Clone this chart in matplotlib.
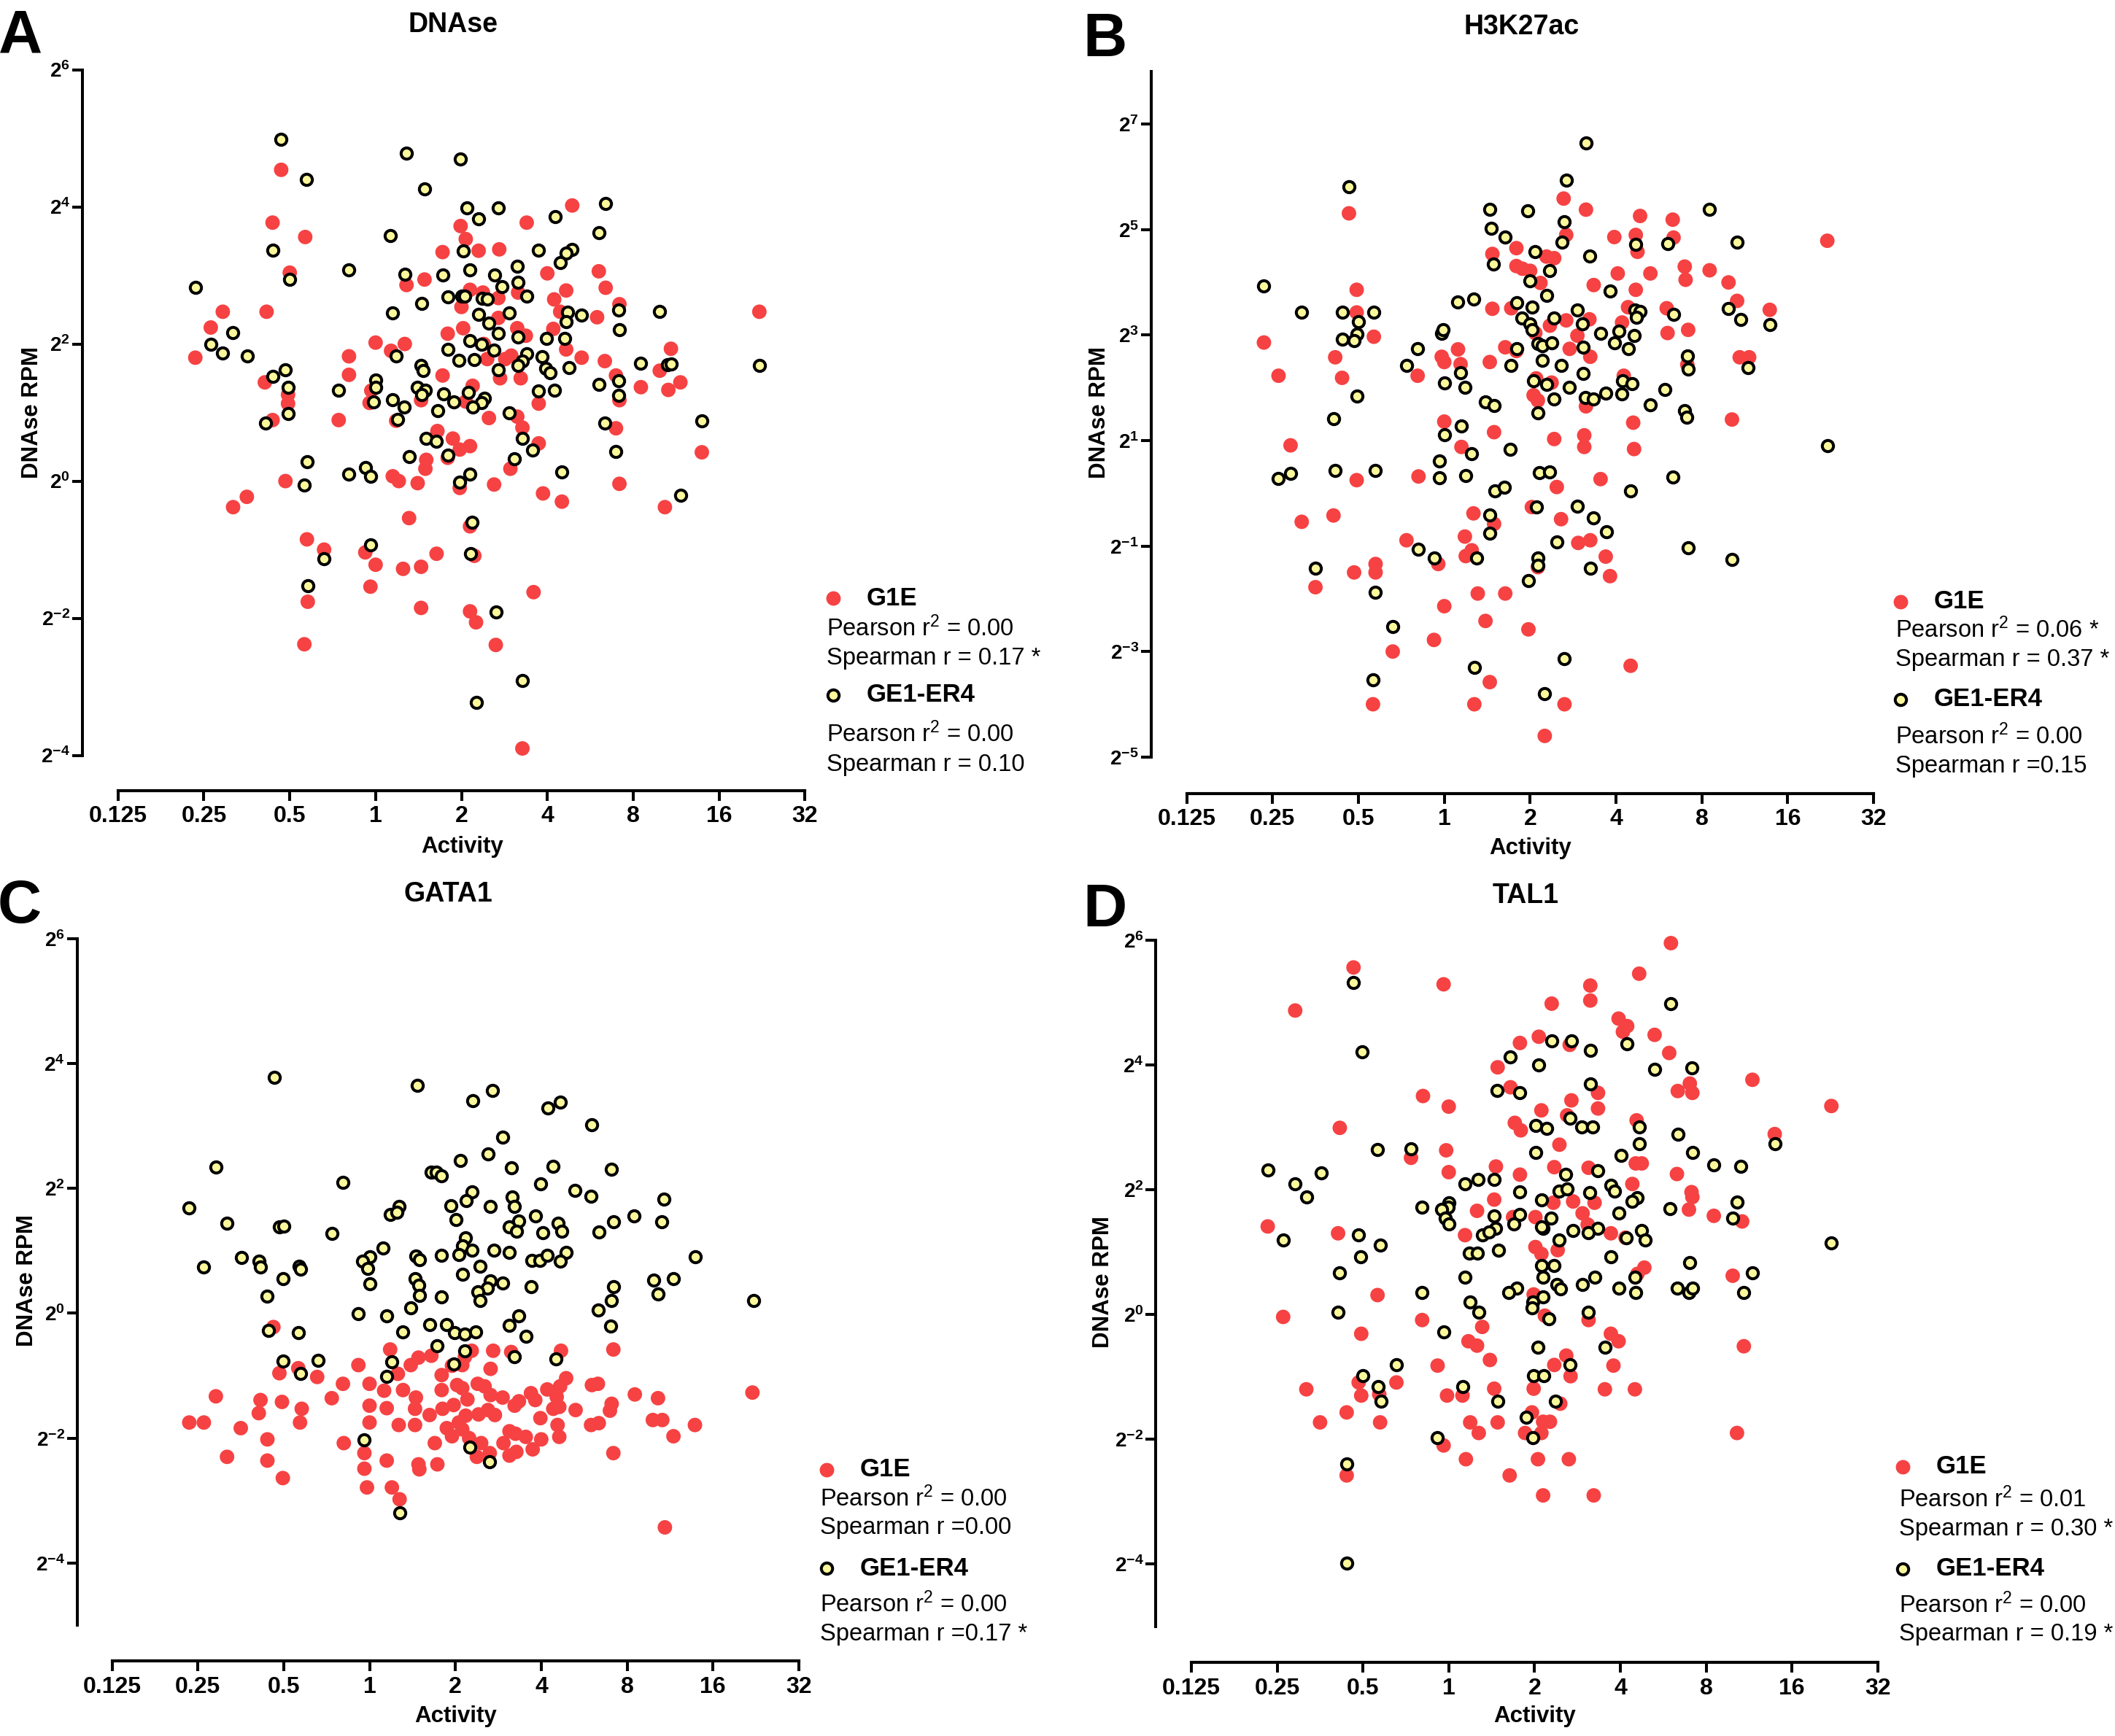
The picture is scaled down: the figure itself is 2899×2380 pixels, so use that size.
import matplotlib
matplotlib.use("Agg")
import matplotlib.pyplot as plt
from matplotlib.lines import Line2D
from matplotlib.ticker import NullLocator
import numpy as np

plt.rcParams['font.family'] = ['Liberation Sans', 'DejaVu Sans']
plt.rcParams['mathtext.fontset'] = 'custom'
plt.rcParams['mathtext.rm'] = 'Liberation Sans'
plt.rcParams['mathtext.bf'] = 'Liberation Sans:bold'
plt.rcParams['mathtext.it'] = 'Liberation Sans:italic'
plt.rcParams['mathtext.default'] = 'regular'

# ---------------- data: (log2 Activity, log2 DNAse RPM) ----------------
DNASE_G1E = [(-1.10,4.54),(-1.20,3.77),(-0.82,3.56),(-1.00,3.04),(-1.78,2.47),(-1.27,2.47),(-1.92,2.24),(-2.10,1.80),(-1.29,1.44),(-1.02,1.26),
(-1.02,1.13),(-1.20,0.89),(-1.05,0.00),(-1.50,-0.23),(-1.66,-0.38),(-0.80,-0.85),(-0.60,-1.00),(-0.79,-1.76),(-0.83,-2.38),(-0.43,0.89),
(-0.31,1.82),(-0.31,1.55),(0.00,2.02),(-0.05,1.32),(-0.07,1.14),(0.34,2.00),(0.18,1.90),(0.24,0.88),(0.20,0.07),(0.27,0.00),
(0.49,-0.03),(0.39,-0.54),(-0.12,-1.04),(0.00,-1.22),(-0.06,-1.54),(0.32,-1.28),(0.53,-1.25),(0.71,-1.06),(0.53,-1.85),(0.36,2.86),
(0.57,2.94),(0.53,1.18),(0.59,0.31),(0.58,0.18),(0.72,0.73),(0.78,1.54),(0.78,3.34),(0.84,2.15),(0.90,0.62),(0.84,0.34),
(0.99,3.72),(1.05,3.53),(1.20,3.36),(1.00,2.54),(1.10,2.79),(1.02,2.23),(1.13,1.39),(1.05,1.16),(1.10,0.51),(0.98,0.46),
(0.98,-0.10),(1.10,-0.66),(1.15,-1.09),(1.10,-1.90),(1.17,-2.06),(1.40,-2.39),(1.25,2.75),(1.26,2.00),(1.30,1.78),(1.32,0.92),
(1.38,-0.05),(1.43,2.67),(1.44,3.38),(1.43,2.38),(1.45,1.50),(1.51,1.78),(1.58,1.83),(1.57,0.18),(1.66,2.75),(1.69,1.50),
(1.65,0.94),(1.71,0.78),(1.65,2.23),(1.76,3.77),(1.75,2.12),(1.84,-1.62),(1.90,0.55),(1.90,1.13),(1.95,-0.18),(2.00,3.03),
(2.08,2.65),(2.07,2.22),(2.15,2.47),(2.22,2.78),(2.22,1.92),(2.17,-0.30),(2.29,4.02),(2.40,1.80),(2.58,2.39),(2.60,3.06),
(2.68,2.82),(2.67,1.75),(2.80,1.54),(2.84,1.18),(2.80,0.77),(2.84,-0.04),(2.84,2.58),(3.09,1.37),(3.31,1.61),(3.41,1.33),
(3.44,1.93),(3.55,1.44),(3.37,-0.38),(3.80,0.42),(4.47,2.47),(1.71,-3.90)]

DNASE_GE1ER4 = [(-1.10,4.98),(-0.81,4.40),(0.36,4.78),(0.99,4.70),(0.57,4.26),(1.06,3.99),(1.43,3.98),(1.20,3.82),(2.09,3.86),(2.68,4.05),
(0.17,3.58),(-1.20,3.37),(1.02,3.36),(1.90,3.37),(2.60,3.62),(2.29,3.38),(2.22,3.32),(2.15,3.19),(1.65,3.13),(-0.31,3.08),
(0.34,3.02),(0.78,3.01),(1.10,3.08),(1.39,3.01),(-1.00,2.94),(-2.10,2.82),(1.66,2.90),(1.47,2.84),(1.76,2.70),(0.84,2.69),
(1.00,2.70),(1.04,2.70),(1.24,2.67),(1.30,2.65),(0.54,2.59),(0.20,2.45),(1.20,2.43),(1.56,2.45),(2.40,2.42),(2.83,2.50),
(3.31,2.47),(2.24,2.46),(2.22,2.32),(1.32,2.30),(1.43,2.16),(1.99,2.08),(2.20,2.08),(1.66,2.10),(2.84,2.21),(-1.66,2.17),
(-1.92,1.99),(-1.78,1.87),(-1.49,1.83),(1.10,2.05),(1.23,1.99),(0.84,1.92),(1.38,1.91),(0.24,1.83),(0.97,1.76),(1.15,1.77),
(1.76,1.86),(1.94,1.81),(1.71,1.75),(1.66,1.69),(0.53,1.69),(0.55,1.61),(1.98,1.64),(2.03,1.58),(2.25,1.65),(1.43,1.62),
(-1.05,1.62),(-1.20,1.53),(3.09,1.72),(3.40,1.70),(3.44,1.71),(4.47,1.69),(0.00,1.47),(0.00,1.37),(-1.02,1.37),(-0.43,1.32),
(0.49,1.37),(0.58,1.32),(0.54,1.26),(0.79,1.27),(1.08,1.29),(1.27,1.21),(1.23,1.14),(0.91,1.15),(1.90,1.31),(2.08,1.33),
(2.60,1.41),(2.83,1.46),(2.83,1.25),(-0.02,1.15),(0.20,1.19),(0.33,1.08),(0.72,1.03),(1.13,1.08),(1.56,1.00),(-1.02,0.98),
(0.26,0.90),(-1.28,0.85),(2.67,0.85),(3.80,0.88),(0.59,0.62),(0.71,0.58),(1.71,0.62),(1.83,0.45),(2.80,0.43),(0.39,0.36),
(0.84,0.38),(1.62,0.32),(-0.80,0.28),(-0.12,0.20),(-0.31,0.10),(-0.06,0.07),(1.10,0.10),(2.17,0.13),(0.98,-0.02),(-0.83,-0.06),
(3.55,-0.21),(1.12,-0.60),(-0.06,-0.93),(1.11,-1.06),(-0.60,-1.13),(-0.79,-1.53),(1.40,-1.91),(1.71,-2.91),(1.17,-3.23)]

H3K27AC_G1E = [(-1.11,5.31),(-1.02,3.86),(-1.02,3.43),(-0.82,2.97),(-2.10,2.86),(-1.27,2.58),(-1.19,2.19),(-1.93,2.23),(-1.79,0.91),(-1.02,0.25),
(-1.66,-0.54),(-1.29,-0.42),(-1.50,-1.78),(-1.05,-1.50),(-0.80,-1.34),(-0.80,-1.50),(-0.83,-4.00),(-0.60,-3.00),(-0.44,-0.89),(-0.31,2.23),
(-0.30,0.32),(-0.12,-2.78),(-0.07,-1.34),(0.00,-2.14),(-0.03,2.59),(0.00,2.49),(0.00,1.36),(0.16,2.73),(0.19,2.45),(0.20,0.88),
(0.24,-0.82),(0.25,-1.19),(0.32,-1.08),(0.34,-0.38),(0.39,-1.90),(0.35,-4.00),(0.48,-2.42),(0.53,-3.58),(0.56,3.50),(0.56,4.54),
(0.53,2.49),(0.58,1.16),(0.58,-0.58),(0.71,-1.90),(0.71,2.77),(0.78,3.51),(0.84,4.65),(0.84,4.31),(0.91,4.26),(0.84,2.70),
(1.00,4.22),(0.98,-2.58),(1.02,-0.26),(1.04,1.86),(1.06,3.04),(1.12,3.99),(1.09,-1.40),(1.09,1.76),(1.07,2.18),(1.17,-4.60),
(1.19,4.49),(1.28,4.46),(1.23,3.18),(1.25,2.10),(1.28,1.03),(1.31,0.12),(1.36,-0.49),(1.39,5.59),(1.42,4.90),(1.40,-4.00),
(1.42,3.28),(1.46,2.74),(1.55,2.99),(1.65,5.38),(1.74,3.95),(1.69,3.30),(1.70,2.59),(1.65,1.65),(1.63,1.10),(1.63,0.88),
(1.82,0.27),(1.56,-0.94),(1.70,-0.89),(1.88,-1.20),(1.93,-1.57),(1.98,4.86),(2.02,4.17),(2.07,3.24),(2.09,2.23),(2.14,3.53),
(2.20,1.34),(2.21,0.84),(2.17,-3.27),(2.23,4.90),(2.25,4.58),(2.23,3.86),(2.28,5.26),(2.40,4.17),(2.59,3.51),(2.60,3.04),
(2.66,5.19),(2.67,4.85),(2.80,4.30),(2.81,4.05),(2.84,3.10),(2.83,2.44),(3.09,4.23),(3.31,4.00),(3.41,3.65),(3.44,2.58),
(3.55,2.58),(3.35,1.40),(3.79,3.48),(4.46,4.79)]

H3K27AC_GE1ER4 = [(-1.11,5.82),(-2.10,3.94),(-1.66,3.44),(-1.19,3.44),(-0.82,3.44),(-1.00,3.26),(-1.02,3.02),(-1.19,2.92),(-1.05,2.89),(-1.02,1.84),
(-1.29,1.41),(-1.93,0.28),(-1.79,0.38),(-1.27,0.43),(-0.80,0.43),(-1.50,-1.42),(-0.80,-1.88),(-0.60,-2.53),(-0.83,-3.54),(-0.44,2.42),
(-0.31,2.74),(-0.30,-1.06),(-0.12,-1.22),(-0.03,3.04),(-0.01,3.11),(0.00,2.10),(0.00,1.11),(-0.06,0.61),(-0.06,0.29),(0.16,3.63),
(0.34,3.68),(0.19,2.29),(0.24,2.01),(0.20,1.28),(0.32,0.75),(0.25,0.34),(0.35,-3.30),(0.38,-1.22),(0.53,-0.41),(0.53,-0.76),
(0.53,5.38),(0.55,5.02),(0.57,4.35),(0.71,4.86),(0.48,1.73),(0.58,1.67),(0.59,0.05),(0.70,0.11),(0.77,0.84),(0.78,2.42),
(0.84,2.74),(0.84,3.62),(0.90,3.33),(0.97,5.36),(1.00,4.03),(1.00,3.21),(1.02,3.11),(1.02,3.53),(1.06,4.59),(1.09,2.84),
(1.14,2.80),(1.14,2.52),(1.04,2.13),(1.19,2.06),(1.09,1.52),(1.11,0.39),(1.23,0.41),(1.07,-0.26),(1.09,-1.22),(1.09,-1.36),
(0.98,-1.66),(1.17,-3.80),(1.40,-3.13),(1.31,-0.92),(1.23,4.22),(1.19,3.76),(1.25,2.86),(1.28,3.32),(1.28,1.79),(1.36,2.42),
(1.37,4.76),(1.40,5.15),(1.42,5.94),(1.46,2.01),(1.55,3.47),(1.55,-0.24),(1.65,6.64),(1.69,4.50),(1.61,3.22),(1.62,2.77),
(1.62,2.28),(1.64,1.82),(1.74,1.79),(1.74,-0.47),(1.70,-1.42),(1.82,3.04),(1.88,1.90),(1.89,-0.73),(1.93,3.84),(1.98,2.86),
(2.03,3.07),(2.08,2.14),(2.07,1.88),(2.14,2.75),(2.19,2.08),(2.21,2.99),(2.23,4.72),(2.22,3.47),(2.28,3.45),(2.24,3.34),
(2.17,0.05),(2.40,1.68),(2.57,1.97),(2.60,4.74),(2.67,3.40),(2.66,0.31),(2.83,2.60),(2.84,2.35),(2.80,1.57),(2.82,1.45),
(2.84,-1.03),(3.09,5.38),(3.31,3.51),(3.45,3.30),(3.41,4.77),(3.54,2.38),(3.35,-1.26),(3.79,3.20),(4.46,0.91)]

GATA1_G1E = [(-1.12,-0.22),(-1.05,-0.96),(-0.83,-0.88),(-0.61,-1.02),(-1.79,-1.33),(-1.27,-1.39),(-1.02,-1.42),(-0.79,-1.53),(-1.29,-1.60),(-2.10,-1.75),
(-1.93,-1.75),(-1.50,-1.84),(-0.81,-1.75),(-1.19,-2.02),(-1.66,-2.30),(-1.19,-2.36),(-1.01,-2.64),(-0.44,-1.36),(-0.31,-1.13),(-0.13,-0.83),
(0.00,-1.13),(0.00,-1.48),(0.00,-1.75),(-0.30,-2.08),(-0.06,-2.24),(-0.06,-2.49),(-0.03,-2.79),(0.20,-2.36),(0.26,-2.79),(0.35,-2.98),
(0.24,-0.58),(0.33,-0.97),(0.17,-1.24),(0.39,-1.23),(0.20,-1.52),(0.34,-1.79),(0.48,-0.83),(0.57,-0.71),(0.72,-0.68),(0.54,-1.35),
(0.53,-1.53),(0.53,-1.79),(0.70,-1.63),(0.57,-2.42),(0.58,-2.50),(0.79,-2.42),(0.76,-2.08),(0.84,-0.99),(0.84,-1.23),(0.85,-1.53),
(0.90,-1.84),(0.96,-1.97),(0.96,-0.84),(1.02,-1.15),(0.98,-1.47),(1.04,-1.75),(1.08,-1.86),(1.08,-0.83),(1.11,-0.70),(1.08,-1.20),
(1.14,-1.38),(1.12,-1.64),(1.16,-2.00),(1.19,-0.60),(1.26,-1.13),(1.27,-1.62),(1.30,-2.08),(1.25,-2.30),(1.34,-1.17),(1.41,-0.89),
(1.44,-0.60),(1.41,-1.31),(1.38,-1.55),(1.46,-1.63),(1.40,-2.24),(1.55,-1.35),(1.56,-2.08),(1.63,-1.89),(1.63,-2.28),(1.65,-0.62),
(1.69,-1.48),(1.74,-1.41),(1.70,-1.93),(1.71,-2.22),(1.82,-1.98),(1.88,-1.28),(1.93,-1.39),(1.90,-2.18),(1.99,-1.68),(2.00,-2.02),
(2.07,-1.22),(2.14,-1.53),(2.18,-1.34),(2.21,-1.50),(2.19,-1.79),(2.21,-1.98),(2.23,-0.60),(2.29,-1.04),(2.22,-1.17),(2.40,-1.55),
(2.58,-1.79),(2.67,-1.76),(2.59,-1.15),(2.66,-1.13),(2.84,-0.58),(2.82,-1.45),(2.80,-1.56),(2.84,-2.24),(3.09,-1.30),(3.36,-1.36),
(3.30,-1.71),(3.41,-1.71),(3.54,-1.97),(3.79,-1.79),(4.46,-1.27),(3.44,-3.43)]

GATA1_GE1ER4 = [(-1.11,3.78),(0.56,3.65),(1.43,3.57),(1.20,3.41),(2.08,3.29),(2.22,3.38),(2.59,3.02),(1.55,2.82),(1.38,2.55),(1.06,2.45),
(1.65,2.33),(2.14,2.35),(2.82,2.31),(-1.79,2.34),(-0.31,2.10),(0.72,2.26),(0.78,2.26),(0.84,2.20),(1.19,1.94),(1.99,2.07),
(2.39,1.97),(2.58,1.88),(3.43,1.83),(-2.10,1.69),(0.34,1.71),(0.24,1.58),(0.32,1.62),(0.95,1.72),(1.13,1.80),(1.41,1.71),
(1.66,1.86),(1.69,1.71),(1.01,1.50),(1.93,1.56),(3.08,1.56),(-1.66,1.44),(-1.05,1.39),(-1.00,1.40),(-0.44,1.28),(1.74,1.48),
(2.20,1.44),(1.63,1.38),(1.71,1.31),(2.02,1.29),(2.24,1.31),(2.67,1.30),(2.84,1.47),(3.40,1.47),(1.12,1.21),(1.08,1.08),
(0.16,1.05),(1.19,1.01),(1.45,1.01),(1.63,0.97),(0.84,0.93),(1.04,0.94),(0.54,0.92),(0.58,0.86),(0.00,0.90),(-0.08,0.83),
(-0.02,0.72),(-1.49,0.89),(-1.29,0.83),(-1.27,0.74),(-0.82,0.75),(-0.80,0.71),(-1.93,0.74),(1.29,0.75),(1.89,0.85),(1.98,0.85),
(2.07,0.93),(2.29,0.97),(2.22,0.83),(3.79,0.91),(1.08,0.63),(0.00,0.47),(-1.01,0.55),(0.53,0.55),(0.57,0.45),(0.58,0.29),
(1.41,0.52),(1.55,0.48),(1.37,0.40),(1.26,0.34),(1.29,0.21),(0.84,0.26),(1.88,0.43),(2.84,0.43),(2.82,0.21),(3.31,0.53),
(3.36,0.31),(3.54,0.56),(4.47,0.21),(-1.19,0.27),(0.48,0.09),(-0.13,-0.01),(0.20,-0.04),(1.74,-0.04),(2.66,0.05),(-1.18,-0.28),
(-0.83,-0.31),(0.39,-0.30),(0.70,-0.18),(0.90,-0.18),(0.99,-0.31),(1.11,-0.33),(1.24,-0.30),(1.63,-0.19),(1.82,-0.37),(2.81,-0.20),
(0.79,-0.52),(1.11,-0.60),(1.69,-0.69),(2.17,-0.73),(-1.01,-0.77),(-0.60,-0.75),(0.26,-0.78),(0.98,-0.81),(-0.80,-0.96),(0.20,-1.01),
(-0.06,-2.03),(1.17,-2.15),(1.40,-2.38),(0.35,-3.20)]

TAL1_G1E = [(-1.11,5.56),(-0.06,5.29),(-1.79,4.87),(2.59,5.95),(2.22,5.46),(1.65,5.27),(1.65,5.03),(1.20,4.98),(1.98,4.74),(2.08,4.62),
(2.03,4.53),(2.40,4.48),(1.05,4.45),(0.83,4.35),(1.41,4.32),(2.57,4.19),(0.57,3.96),(2.81,3.70),(2.67,3.58),(2.84,3.55),
(3.54,3.76),(0.72,3.64),(1.74,3.55),(-0.30,3.50),(1.43,3.43),(0.00,3.33),(1.08,3.27),(1.74,3.30),(4.46,3.34),(1.38,3.19),
(2.19,3.11),(0.77,3.07),(0.84,2.95),(-1.27,2.99),(3.80,2.89),(1.29,2.72),(-0.03,2.63),(-0.44,2.51),(2.18,2.42),(2.25,2.42),
(1.23,2.36),(1.63,2.35),(0.55,2.37),(0.00,2.28),(0.83,2.24),(2.66,2.25),(2.14,2.09),(2.83,1.96),(2.84,1.88),(0.53,1.84),
(1.45,1.81),(1.70,1.79),(1.22,1.79),(2.80,1.68),(3.09,1.58),(3.42,1.49),(0.33,1.66),(0.75,1.56),(1.56,1.62),(1.01,1.56),
(1.62,1.44),(-2.11,1.41),(-1.29,1.30),(0.19,1.27),(1.89,1.30),(2.06,1.23),(1.01,1.08),(1.27,1.03),(1.08,0.97),(2.28,0.75),
(2.20,0.65),(3.31,0.62),(-0.83,0.31),(-1.93,-0.04),(-0.31,-0.09),(0.99,0.32),(1.12,-0.02),(1.63,-0.09),(0.39,-0.20),(-1.02,-0.31),
(1.89,-0.31),(1.98,-0.43),(3.44,-0.51),(0.23,-0.43),(0.33,-0.50),(0.48,-0.73),(1.37,-0.66),(1.23,-0.81),(1.92,-0.82),(-0.13,-0.82),
(1.42,-0.99),(-1.05,-1.09),(-0.61,-1.09),(-1.66,-1.20),(0.53,-1.19),(0.99,-1.19),(1.82,-1.20),(2.17,-1.20),(-1.02,-1.30),(-0.02,-1.30),
(0.16,-1.30),(1.30,-1.43),(-0.81,-1.28),(-1.19,-1.57),(0.97,-1.57),(-1.50,-1.73),(-0.80,-1.73),(0.25,-1.73),(0.57,-1.73),(1.10,-1.72),
(1.18,-1.72),(0.35,-1.90),(0.89,-1.90),(1.08,-1.90),(3.36,-1.90),(-0.06,-2.10),(0.20,-2.32),(1.04,-2.32),(1.40,-2.32),(-1.19,-2.58),
(0.71,-2.58),(1.10,-2.90),(1.69,-2.90)]

TAL1_GE1ER4 = [(-1.11,5.32),(2.59,4.98),(1.20,4.38),(1.43,4.38),(2.08,4.34),(1.65,4.23),(-1.01,4.21),(0.72,4.13),(1.05,4.00),(2.40,3.93),
(2.83,3.95),(1.65,3.69),(0.56,3.59),(0.83,3.55),(1.41,3.15),(1.01,3.03),(1.14,2.98),(1.55,3.01),(1.68,3.00),(2.22,3.00),
(2.67,2.89),(2.22,2.74),(3.80,2.74),(-0.83,2.64),(-0.44,2.65),(1.01,2.60),(2.84,2.59),(2.01,2.55),(3.09,2.40),(3.40,2.37),
(-2.11,2.32),(-1.49,2.27),(1.36,2.25),(1.74,2.30),(-1.79,2.09),(0.19,2.09),(0.34,2.16),(0.53,2.16),(1.89,2.07),(1.93,1.98),
(1.29,1.98),(1.38,2.01),(0.83,1.96),(1.64,1.95),(-1.66,1.88),(-0.31,1.72),(0.00,1.79),(-0.01,1.72),(-0.08,1.68),(-0.04,1.54),
(0.00,1.45),(1.08,1.83),(2.20,1.87),(2.14,1.81),(3.36,1.80),(2.58,1.69),(1.98,1.62),(3.31,1.54),(0.53,1.58),(0.83,1.60),
(1.19,1.54),(0.76,1.45),(0.55,1.38),(1.10,1.38),(1.08,1.40),(1.45,1.35),(1.74,1.38),(1.63,1.31),(2.25,1.34),(2.07,1.23),
(2.29,1.19),(-1.93,1.19),(-1.05,1.27),(0.39,1.28),(0.47,1.32),(1.29,1.19),(4.46,1.14),(-0.80,1.11),(0.24,0.98),(0.33,0.98),
(0.58,1.03),(-1.03,0.92),(1.89,0.92),(1.08,0.78),(1.23,0.78),(2.81,0.83),(-1.27,0.67),(0.19,0.60),(1.10,0.60),(2.17,0.60),
(1.70,0.60),(3.54,0.67),(1.26,0.48),(1.30,0.41),(1.56,0.48),(0.79,0.42),(0.70,0.35),(1.98,0.42),(2.18,0.35),(2.66,0.42),
(2.80,0.35),(2.84,0.42),(3.44,0.35),(-0.31,0.35),(1.10,0.28),(0.98,0.20),(0.97,0.11),(0.25,0.20),(0.35,0.03),(-1.29,0.03),
(1.63,0.03),(1.17,-0.07),(-0.06,-0.28),(1.04,-0.52),(1.82,-0.52),(-0.61,-0.81),(1.41,-0.81),(-1.00,-0.98),(0.99,-0.98),(1.11,-0.98),
(-0.82,-1.16),(0.16,-1.16),(-0.79,-1.39),(0.57,-1.39),(1.24,-1.39),(0.90,-1.65),(0.98,-1.97),(-0.13,-1.97),(-1.19,-2.39),(-1.19,-3.98)]

X_TICKS = [0.125, 0.25, 0.5, 1, 2, 4, 8, 16, 32]
X_TICK_LABELS = ['0.125', '0.25', '0.5', '1', '2', '4', '8', '16', '32']
SERIES_NAMES = ['G1E', 'GE1-ER4']

PANELS = [
    dict(letter='A', title='DNAse', g1e=DNASE_G1E, er4=DNASE_GE1ER4,
         ylim=(-4, 6), yticks=[6, 4, 2, 0, -2, -4],
         stats=(['Pearson r$^2$ = 0.00', 'Spearman r = 0.17 *'],
                ['Pearson r$^2$ = 0.00', 'Spearman r = 0.10'])),
    dict(letter='B', title='H3K27ac', g1e=H3K27AC_G1E, er4=H3K27AC_GE1ER4,
         ylim=(-5, 8), yticks=[7, 5, 3, 1, -1, -3, -5],
         stats=(['Pearson r$^2$ = 0.06 *', 'Spearman r = 0.37 *'],
                ['Pearson r$^2$ = 0.00', 'Spearman r =0.15'])),
    dict(letter='C', title='GATA1', g1e=GATA1_G1E, er4=GATA1_GE1ER4,
         ylim=(-5, 6), yticks=[6, 4, 2, 0, -2, -4],
         stats=(['Pearson r$^2$ = 0.00', 'Spearman r =0.00'],
                ['Pearson r$^2$ = 0.00', 'Spearman r =0.17 *'])),
    dict(letter='D', title='TAL1', g1e=TAL1_G1E, er4=TAL1_GE1ER4,
         ylim=(-5, 6), yticks=[6, 4, 2, 0, -2, -4],
         stats=(['Pearson r$^2$ = 0.01', 'Spearman r = 0.30 *'],
                ['Pearson r$^2$ = 0.00', 'Spearman r = 0.19 *'])),
]

# ---------------- layout (pixels of the 2899x2380 canvas) ----------------
W, H = 2899, 2380
LAYOUT = [
    dict(box=(161.8, 1103.2, 95.6, 1035.5), off=(49, 48), title=(621, 34), letter=(28, 50),
         ylab=(44, 566), xlab=(634, 1161), leg_mx=1142, leg_tx=1188, leg_sx=1133,
         rows=(820, 862, 902, 953, 1007, 1048)),
    dict(box=(1626.5, 2568.2, 98.0, 1037.8), off=(49, 49.7), title=(2086, 37), letter=(1515, 55),
         ylab=(1507, 566), xlab=(2098, 1163), leg_mx=2605, leg_tx=2651, leg_sx=2598,
         rows=(825, 864, 905, 959, 1010, 1050)),
    dict(box=(153.5, 1094.9, 1287.1, 2228.3), off=(48, 48.5), title=(614, 1226), letter=(27, 1243),
         ylab=(37, 1756), xlab=(625, 2353), leg_mx=1133, leg_tx=1179, leg_sx=1124.5,
         rows=(2015, 2055, 2095, 2150, 2200, 2240)),
    dict(box=(1633.0, 2573.7, 1288.7, 2229.8), off=(49, 49), title=(2091, 1228), letter=(1514, 1248),
         ylab=(1512, 1757), xlab=(2104, 2353), leg_mx=2608, leg_tx=2654, leg_sx=2603,
         rows=(2011, 2056, 2096, 2151, 2201, 2241)),
]

RED = '#F64243'
YEL = '#FAF89A'
PX2PT = 0.72

fig = plt.figure(figsize=(W / 100, H / 100), dpi=100)

def fx(px):
    return px / W

def fy(py):
    return 1 - py / H

for p, L in zip(PANELS, LAYOUT):
    x0, x1, yt, yb = L['box']
    ax = fig.add_axes([fx(x0), fy(yb), (x1 - x0) / W, (yb - yt) / H])
    ax.set_xscale('log', base=2)
    ax.set_yscale('log', base=2)
    ax.set_xlim(X_TICKS[0], X_TICKS[-1])
    ax.set_ylim(2.0 ** p['ylim'][0], 2.0 ** p['ylim'][1])

    g = np.array(p['g1e'])
    e = np.array(p['er4'])
    ax.scatter(2.0 ** g[:, 0], 2.0 ** g[:, 1], s=205, c=RED, edgecolors='none',
               zorder=3, clip_on=False)
    ax.scatter(2.0 ** e[:, 0], 2.0 ** e[:, 1], s=122, c=YEL, edgecolors='black',
               linewidths=2.9, zorder=4, clip_on=False)

    for side in ('top', 'right'):
        ax.spines[side].set_visible(False)
    ax.spines['left'].set_position(('outward', L['off'][0] * PX2PT))
    ax.spines['bottom'].set_position(('outward', L['off'][1] * PX2PT))
    ax.spines['left'].set_linewidth(2.9)
    ax.spines['bottom'].set_linewidth(3.0)

    ax.xaxis.set_minor_locator(NullLocator())
    ax.yaxis.set_minor_locator(NullLocator())
    ax.set_xticks(X_TICKS)
    ax.set_xticklabels(X_TICK_LABELS, fontsize=23, fontweight='bold')
    ax.set_yticks([2.0 ** k for k in p['yticks']])
    ax.set_yticklabels([r'$\mathbf{2^{%d}}$' % k for k in p['yticks']], fontsize=20)
    ax.tick_params(axis='x', direction='out', length=10, width=2.9, pad=5)
    ax.tick_params(axis='y', direction='out', length=10, width=2.9, pad=2)

    fig.text(fx(L['title'][0]), fy(L['title'][1]), p['title'], ha='center', va='center',
             fontsize=27, fontweight='bold')
    fig.text(fx(L['letter'][0]), fy(L['letter'][1]), p['letter'], ha='center', va='center',
             fontsize=60, fontweight='bold',
             family=['Liberation Sans Narrow', 'Liberation Sans', 'DejaVu Sans'])
    fig.text(fx(L['ylab'][0]), fy(L['ylab'][1]), 'DNAse RPM', ha='center', va='center',
             rotation=90, fontsize=22.5, fontweight='bold')
    fig.text(fx(L['xlab'][0]), fy(L['xlab'][1]), 'Activity', ha='center', va='center',
             fontsize=22.5, fontweight='bold')

    r = L['rows']
    # legend: series markers, names and statistics
    fig.add_artist(Line2D([fx(L['leg_mx'])], [fy(r[0])], marker='o', markersize=14.3,
                          color=RED, markeredgecolor='none', linestyle='none',
                          transform=fig.transFigure))
    fig.add_artist(Line2D([fx(L['leg_mx'])], [fy(r[3])], marker='o', markersize=11.1,
                          markerfacecolor=YEL, markeredgecolor='black', markeredgewidth=2.9,
                          linestyle='none', transform=fig.transFigure))
    fig.text(fx(L['leg_tx']), fy(r[0]), SERIES_NAMES[0], ha='left', va='center',
             fontsize=25, fontweight='bold')
    fig.text(fx(L['leg_tx']), fy(r[3]), SERIES_NAMES[1], ha='left', va='center',
             fontsize=25, fontweight='bold')
    for txt, yy in zip(p['stats'][0], (r[1], r[2])):
        fig.text(fx(L['leg_sx']), fy(yy), txt, ha='left', va='center', fontsize=23.5)
    for txt, yy in zip(p['stats'][1], (r[4], r[5])):
        fig.text(fx(L['leg_sx']), fy(yy), txt, ha='left', va='center', fontsize=23.5)

fig.savefig('out.png', dpi=100)
